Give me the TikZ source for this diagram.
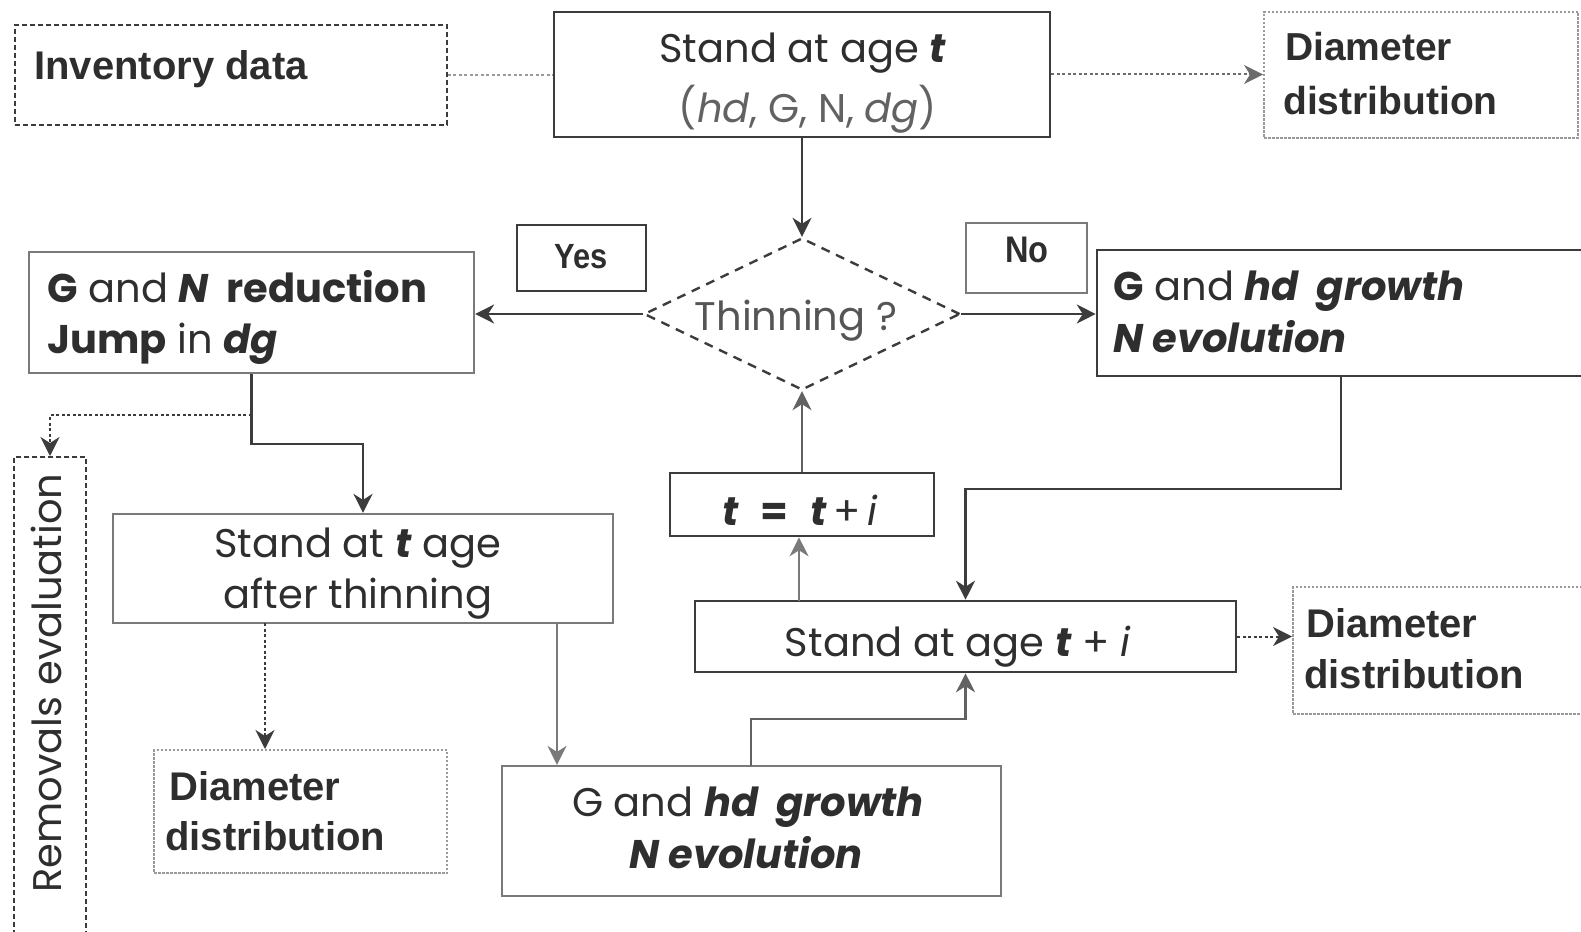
\documentclass[tikz,border=0pt]{standalone}
\usepackage{fontspec}
\setmainfont{Poppins}
\newfontfamily\arialf{Liberation Sans}
\usetikzlibrary{arrows.meta,shapes.geometric}
\definecolor{ink}{HTML}{2E2E2E}
\definecolor{edge}{HTML}{3C3C3C}
\definecolor{midg}{HTML}{7A7A7A}
\definecolor{lgray}{HTML}{9A9A9A}
\newcommand\gfont{\fontsize{40}{40}\selectfont}
\newcommand\afont{\arialf\bfseries\fontsize{40}{40}\selectfont}
\tikzset{
  box/.style={draw=edge, line width=2.6pt, inner sep=0pt},
  gbox/.style={draw=midg, line width=2.2pt, inner sep=0pt},
  dotbox/.style={draw=lgray, line width=2pt, dash pattern=on 2.5pt off 1.5pt, inner sep=0pt},
  dashbox/.style={draw=edge, line width=2pt, dash pattern=on 5pt off 3pt, inner sep=0pt},
  gt/.style={font=\gfont, text=ink, inner sep=0pt},
  atxt/.style={font=\afont, text=ink, inner sep=0pt},
  tip/.style={-{Stealth[length=19pt,width=19pt,inset=6pt]}},
  conn/.style={draw=edge, line width=2.4pt, tip},
  tconn/.style={draw=midg, line width=1.8pt, tip},
  dconn/.style={draw=edge, line width=2pt, dash pattern=on 3pt off 2.5pt, tip},
  dline/.style={draw=lgray, line width=2pt, dash pattern=on 3pt off 2.5pt},
}
\begin{document}
\begin{tikzpicture}[x=1pt,y=-1pt]
\useasboundingbox (0,0) rectangle (1581,931);

% boxes
\node[dashbox, minimum width=432pt, minimum height=100pt] (inv) at (230.5,75) {};
\node[box, minimum width=496pt, minimum height=125pt] (stand) at (802,74.5) {};
\node[dotbox, minimum width=314pt, minimum height=126pt] (ddT) at (1421,75) {};
\node[box, line width=2.2pt, minimum width=129pt, minimum height=66pt] (yes) at (581.5,258) {};
\node[gbox, minimum width=121pt, minimum height=70pt] (no) at (1026.5,258) {};
\node[gbox, minimum width=445pt, minimum height=121pt] (red) at (251.5,312.5) {};
\node[diamond, draw=edge, line width=2.4pt, dash pattern=on 9pt off 7pt, minimum width=316pt, minimum height=152pt, inner sep=0pt] (dia) at (802,314) {};
\node[box, minimum width=523pt, minimum height=126pt] (grR) at (1358.5,313) {};
\node[dashbox, minimum width=72pt, minimum height=503pt] (rem) at (50,708.5) {};
\node[gbox, minimum width=500pt, minimum height=109pt] (after) at (363,568.5) {};
\node[box, minimum width=264pt, minimum height=63pt] (tt) at (802,504.5) {};
\node[box, minimum width=541pt, minimum height=71pt] (ti) at (965.5,636.5) {};
\node[dotbox, minimum width=327pt, minimum height=127pt] (ddR) at (1456.5,650.5) {};
\node[dotbox, minimum width=293pt, minimum height=123pt] (ddL) at (300.5,811.5) {};
\node[gbox, minimum width=499pt, minimum height=130pt] (grB) at (751.5,831) {};

% texts
\node[atxt, anchor=base west] (invT) at (34,80) {Inventory data};
\node[gt, anchor=base] (standT1) at (803,63) {Stand at age \textbf{\textit{t}}};
\node[gt, anchor=base, text=midg!80!black] (standT2) at (808,122) {(\textit{hd}, G, N, \textit{dg})};
\node[atxt, anchor=base west, font=\arialf\bfseries\fontsize{39}{39}\selectfont] (ddT1) at (1285,61) {Diameter};
\node[atxt, anchor=base west, font=\arialf\bfseries\fontsize{39}{39}\selectfont] (ddT2) at (1283,115) {distribution};
\node[atxt, anchor=base, font=\arialf\bfseries\fontsize{35}{35}\selectfont] (yesT) at (581,268) {\scalebox{0.88}[1]{Yes}};
\node[atxt, anchor=base, font=\arialf\bfseries\fontsize{37}{37}\selectfont] (noT) at (1027,262) {\scalebox{0.88}[1]{No}};
\node[gt, anchor=base west] (redT1) at (47,302) {\textbf{G} and \textbf{\textit{N}}\, \textbf{reduction}};
\node[gt, anchor=base west] (redT2) at (47,353) {\textbf{Jump} in \textbf{\textit{dg}}};
\node[gt, anchor=base, text=midg!70!black] (diaT) at (796,330) {Thinning ?};
\node[gt, anchor=base west] (grRT1) at (1113,300) {\textbf{G} and \textbf{\textit{hd}}\, \textbf{\textit{growth}}};
\node[gt, anchor=base west] (grRT2) at (1113,352) {\textbf{\textit{N evolution}}};
\node[gt, anchor=base, rotate=90] (remT) at (61,683) {Removals evaluation};
\node[gt, anchor=base] (afterT1) at (358,557) {Stand at \textbf{\textit{t}} age};
\node[gt, anchor=base] (afterT2) at (358,608) {after thinning};
\node[gt, anchor=base] (ttT) at (800,525) {\textbf{\textit{t}}\;\ \textbf{=}\;\ \textbf{\textit{t}}\,+\,\textit{i}};
\node[gt, anchor=base] (tiT) at (958,656) {Stand at age \textbf{\textit{t}} + \textit{i}};
\node[gt, anchor=base] (grBT1) at (748,816) {G and \textbf{\textit{hd}}\, \textbf{\textit{growth}}};
\node[gt, anchor=base] (grBT2) at (746,868) {\textbf{\textit{N evolution}}};
\node[atxt, anchor=base west] (ddRT1) at (1306,637) {Diameter};
\node[atxt, anchor=base west] (ddRT2) at (1304,688) {distribution};
\node[atxt, anchor=base west] (ddLT1) at (169,800) {Diameter};
\node[atxt, anchor=base west] (ddLT2) at (165,850) {distribution};

% connector anchors
\coordinate (rbr) at (251.5,415);
\coordinate (a1) at (265,623);
\coordinate (a2) at (557,623);
\coordinate (g1) at (751,766);
\coordinate (g2) at (1341,376);
\coordinate (ti1) at (799,601);

% connectors
\draw[dline] (inv.east) -- (inv.east -| stand.west);
\draw[dconn, draw=lgray!70!black] (stand.east) -- (stand.east -| ddT.west);
\draw[conn] (stand.south) -- (dia.north);
\draw[conn] (dia.west) -- (dia.west -| red.east);
\draw[conn] (dia.east) -- (dia.east -| grR.west);
\draw[conn] (red.south) -- ++(0,70) -| (after.north);
\draw[dconn] (rbr) -| (rem.north);
\draw[dconn] (a1) -- (a1 |- ddL.north);
\draw[tconn] (a2) -- (a2 |- grB.north);
\draw[conn, draw=midg!80!black] (g1) -- ++(0,-47) -| (ti.south);
\draw[conn] (g2) -- ++(0,113) -| (ti.north);
\draw[tconn] (ti1) -- (ti1 |- tt.south);
\draw[conn, draw=midg!80!black] (tt.north) -- (dia.south);
\draw[dconn] (ti.east) -- (ti.east -| ddR.west);
\end{tikzpicture}
\end{document}
